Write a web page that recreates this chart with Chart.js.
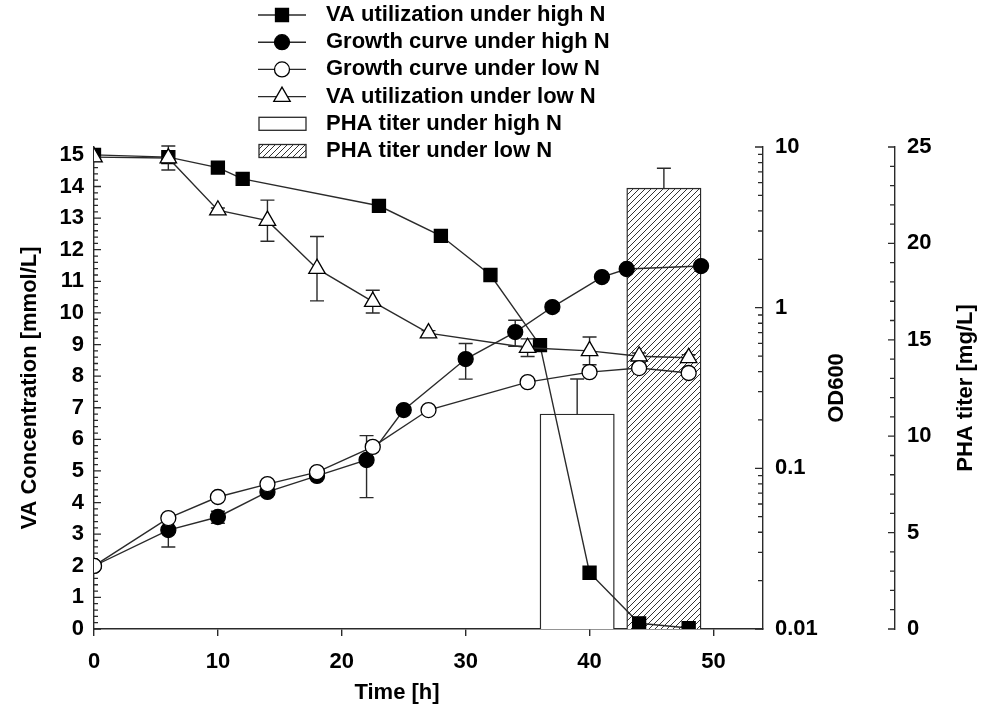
<!DOCTYPE html>
<html>
<head>
<meta charset="utf-8">
<script src="https://cdn.jsdelivr.net/npm/chart.js@4.4.1/dist/chart.umd.min.js"></script>
<style>
  body { margin: 0; background: #fff; }
</style>
</head>
<body>
<canvas id="graficaPHA" width="981" height="709"></canvas>
<script>
// valores
const vaHighTime = [0, 6, 10, 12, 23, 28, 32, 36, 40, 44, 48];
const vaHigh     = [15.0, 14.93, 14.6, 14.24, 13.39, 12.44, 11.2, 8.98, 1.78, 0.18, 0.03];

const vaLowTime = [0, 6, 10, 14, 18, 22.5, 27, 35, 40, 44, 48];
const vaLow     = [14.93, 14.9, 13.25, 12.92, 11.4, 10.36, 9.36, 8.9, 8.8, 8.63, 8.58];
const vaLowErr  = [0, 0.38, 0.07, 0.65, 1.02, 0.36, 0.08, 0.28, 0.44, 0.1, 0.1];

const odHighTime = [0, 6, 10, 14, 18, 22, 25, 30, 34, 37, 41, 43, 49];
const odHigh     = [0.0247, 0.0413, 0.0498, 0.0713, 0.0897, 0.1127, 0.2306, 0.479, 0.705, 1.009, 1.55, 1.74, 1.815];
const odHighErr  = [0, 0.0089, 0.0043, 0, 0, 0.047, 0, 0.12, 0.13, 0.06, 0, 0, 0];

const odLowTime = [0, 6, 10, 14, 18, 22.5, 27, 35, 40, 44, 48];
const odLow     = [0.0247, 0.049, 0.0663, 0.0798, 0.0948, 0.136, 0.2306, 0.344, 0.397, 0.421, 0.392];

const phaTime  = [39, 46];
const phaTiter = [11.15, 22.87];
const phaErr   = [1.82, 1.03];

const timeTicks = [0, 10, 20, 30, 40, 50];
const vaTicks   = [0, 1, 2, 3, 4, 5, 6, 7, 8, 9, 10, 11, 12, 13, 14, 15];
const odTicks   = [0.01, 0.1, 1, 10];
const phaTicks  = [0, 5, 10, 15, 20, 25];

const labels = [
  'VA utilization under high N',
  'Growth curve under high N',
  'Growth curve under low N',
  'VA utilization under low N',
  'PHA titer under high N',
  'PHA titer under low N'
];

const INK = '#2a2a2a';
const FAMILY = '"Liberation Sans", Arial, sans-serif';
const FONT = { family: FAMILY, size: 22, weight: 'bold' };
const FONT_CSS = 'bold 22px ' + FAMILY;
const BAR_SPAN = 6; // horas

const pts = (xs, ys) => xs.map((x, i) => ({ x: x, y: ys[i] }));

function hatch(ctx) {
  const c = document.createElement('canvas');
  c.width = 6; c.height = 6;
  const g = c.getContext('2d');
  g.fillStyle = '#fff';
  g.fillRect(0, 0, 6, 6);
  g.strokeStyle = '#333';
  g.lineWidth = 1;
  g.beginPath();
  g.moveTo(0, 6); g.lineTo(6, 0);
  g.moveTo(-1, 1); g.lineTo(1, -1);
  g.moveTo(5, 7); g.lineTo(7, 5);
  g.stroke();
  return ctx.createPattern(c, 'repeat');
}

function lineSet(label, xs, ys, errs, axis, style, fill, radius, order) {
  return {
    type: 'line', label: label, data: pts(xs, ys), errors: errs, yAxisID: axis,
    borderColor: INK, borderWidth: 1.4, tension: 0, fill: false,
    pointStyle: style, pointRadius: radius, pointBackgroundColor: fill,
    pointBorderColor: '#000', pointBorderWidth: 1.3, order: order
  };
}

function barSet(label, i, bg, order) {
  return {
    type: 'bar', label: label, data: [{ x: phaTime[i], y: phaTiter[i] }], errors: [phaErr[i]],
    yAxisID: 'pha', backgroundColor: bg, borderColor: INK, borderWidth: 1.4,
    grouped: false, order: order,
    barThickness: c => {
      const s = c.chart.scales.x;
      return s.getPixelForValue(BAR_SPAN) - s.getPixelForValue(0);
    }
  };
}

// barras de error, dibujadas antes de cada serie
const errorBars = {
  id: 'errorBars',
  beforeDatasetDraw(chart, args) {
    const ds = chart.data.datasets[args.index];
    if (!ds.errors) return;
    const ys = chart.scales[args.meta.yAxisID];
    const ctx = chart.ctx;
    ctx.save();
    ctx.strokeStyle = INK;
    ctx.lineWidth = 1.4;
    ctx.beginPath();
    args.meta.data.forEach((el, i) => {
      const e = ds.errors[i];
      if (!e) return;
      const v = ds.data[i].y;
      const x = el.x;
      const y1 = ys.getPixelForValue(v + e);
      const y2 = ys.getPixelForValue(v - e);
      ctx.moveTo(x, y1); ctx.lineTo(x, y2);
      ctx.moveTo(x - 7, y1); ctx.lineTo(x + 7, y1);
      ctx.moveTo(x - 7, y2); ctx.lineTo(x + 7, y2);
    });
    ctx.stroke();
    ctx.restore();
  }
};

// marcas mayores y menores en los ejes verticales
const axisTicks = {
  id: 'axisTicks',
  beforeDatasetsDraw(chart) {
    const { ctx, chartArea, scales } = chart;
    ctx.save();
    ctx.strokeStyle = INK;
    ctx.lineWidth = 1.3;
    ctx.beginPath();
    const mark = (x, y, dx) => { ctx.moveTo(x, y); ctx.lineTo(x + dx, y); };
    for (let i = 0; i <= 75; i++) {
      mark(chartArea.left, scales.va.getPixelForValue(i / 5), i % 5 === 0 ? 7 : 4);
    }
    [0.01, 0.1, 1].forEach(d => {
      for (let k = 1; k <= 9; k++) mark(chartArea.right, scales.od.getPixelForValue(k * d), k === 1 ? -8 : -5);
    });
    mark(chartArea.right, scales.od.getPixelForValue(10), -8);
    const px = scales.pha.left;
    for (let v = 0; v <= 25; v++) mark(px, scales.pha.getPixelForValue(v), v % 5 === 0 ? -7 : -5);
    ctx.stroke();
    ctx.restore();
  }
};

function drawMarker(ctx, style, x, y, fill) {
  ctx.fillStyle = fill;
  ctx.strokeStyle = '#000';
  ctx.lineWidth = 1.3;
  ctx.beginPath();
  if (style === 'rect') {
    ctx.rect(x - 6.5, y - 6.5, 13, 13);
  } else if (style === 'circle') {
    ctx.arc(x, y, 7.5, 0, Math.PI * 2);
  } else {
    const r = 9.5;
    ctx.moveTo(x, y - r);
    ctx.lineTo(x + r * 0.866, y + r / 2);
    ctx.lineTo(x - r * 0.866, y + r / 2);
    ctx.closePath();
  }
  ctx.fill();
  ctx.stroke();
}

// leyenda vertical arriba
const legendBox = {
  id: 'legendBox',
  afterDraw(chart) {
    const ctx = chart.ctx;
    const sets = chart.data.datasets;
    ctx.save();
    ctx.font = FONT_CSS;
    ctx.textBaseline = 'middle';
    sets.forEach((ds, i) => {
      const y = 15 + i * 27.2;
      if (ds.type === 'line') {
        ctx.strokeStyle = INK;
        ctx.lineWidth = 1.4;
        ctx.beginPath();
        ctx.moveTo(258, y); ctx.lineTo(306, y);
        ctx.stroke();
        drawMarker(ctx, ds.pointStyle, 282, y, ds.pointBackgroundColor);
      } else {
        ctx.fillStyle = ds.backgroundColor;
        ctx.fillRect(259, y - 6.5, 47, 13);
        ctx.strokeStyle = INK;
        ctx.lineWidth = 1.3;
        ctx.strokeRect(259, y - 6.5, 47, 13);
      }
      ctx.fillStyle = '#000';
      ctx.fillText(ds.label, 326, y);
    });
    ctx.restore();
  }
};

// títulos de los ejes derechos y del eje x
const sideTitles = {
  id: 'sideTitles',
  afterDraw(chart) {
    const { ctx, chartArea, scales } = chart;
    const midY = (chartArea.top + chartArea.bottom) / 2;
    ctx.save();
    ctx.font = FONT_CSS;
    ctx.fillStyle = '#000';
    ctx.textAlign = 'center';
    ctx.textBaseline = 'middle';
    [[scales.od.right - 58, 'OD600'], [scales.pha.right - 15, 'PHA titer [mg/L]']].forEach(([x, t]) => {
      ctx.save();
      ctx.translate(x, midY);
      ctx.rotate(-Math.PI / 2);
      ctx.fillText(t, 0, 0);
      ctx.restore();
    });
    ctx.fillText('Time [h]', 397, 693);
    ctx.restore();
  }
};

(function() {
  const canvas = document.getElementById('graficaPHA');
  const ctx = canvas.getContext('2d');

  const tickSetter = list => s => { s.ticks = list.map(v => ({ value: v })); };
  const border = { display: true, color: INK, width: 1.4 };

  new Chart(ctx, {
    type: 'line',
    data: {
      datasets: [
        lineSet(labels[0], vaHighTime, vaHigh, null, 'va', 'rect', '#000', 9.2, 3),
        lineSet(labels[1], odHighTime, odHigh, odHighErr, 'od', 'circle', '#000', 7.5, 1),
        lineSet(labels[2], odLowTime, odLow, null, 'od', 'circle', '#fff', 7.5, 0),
        lineSet(labels[3], vaLowTime, vaLow, vaLowErr, 'va', 'triangle', '#fff', 9.5, 2),
        barSet(labels[4], 0, '#fff', 4),
        barSet(labels[5], 1, hatch(ctx), 5)
      ]
    },
    options: {
      responsive: false,
      animation: false,
      devicePixelRatio: 1,
      layout: { padding: { top: 147, left: 0, right: 0, bottom: 0 } },
      plugins: { legend: { display: false }, tooltip: { enabled: false } },
      scales: {
        x: {
          type: 'linear', min: 0, max: 54, offset: false,
          afterBuildTicks: tickSetter(timeTicks),
          afterFit: s => { s.height = 80; },
          grid: { display: true, drawOnChartArea: false, offset: false, tickLength: 7, color: INK, lineWidth: 1.4 },
          border: border,
          ticks: { font: FONT, color: '#000', padding: 13, maxRotation: 0 }
        },
        va: {
          type: 'linear', position: 'left', min: 0, max: 15.25,
          afterBuildTicks: tickSetter(vaTicks),
          afterFit: s => { s.width = 94; },
          grid: { display: false, drawTicks: false },
          border: border,
          ticks: { font: FONT, color: '#000', padding: 10 },
          title: { display: true, text: 'VA Concentration [mmol/L]', font: FONT, color: '#000', padding: { top: 17 } }
        },
        od: {
          type: 'logarithmic', position: 'right', weight: 0, min: 0.01, max: 10,
          afterBuildTicks: tickSetter(odTicks),
          afterFit: s => { s.width = 132; },
          grid: { display: false, drawTicks: false },
          border: border,
          ticks: { font: FONT, color: '#000', padding: 12, callback: v => String(v) }
        },
        pha: {
          type: 'linear', position: 'right', weight: 1, min: 0, max: 25,
          afterBuildTicks: tickSetter(phaTicks),
          afterFit: s => { s.width = 86; },
          grid: { display: false, drawTicks: false },
          border: border,
          ticks: { font: FONT, color: '#000', padding: 12 }
        }
      }
    },
    plugins: [axisTicks, errorBars, legendBox, sideTitles]
  });
})();
</script>
</body>
</html>
